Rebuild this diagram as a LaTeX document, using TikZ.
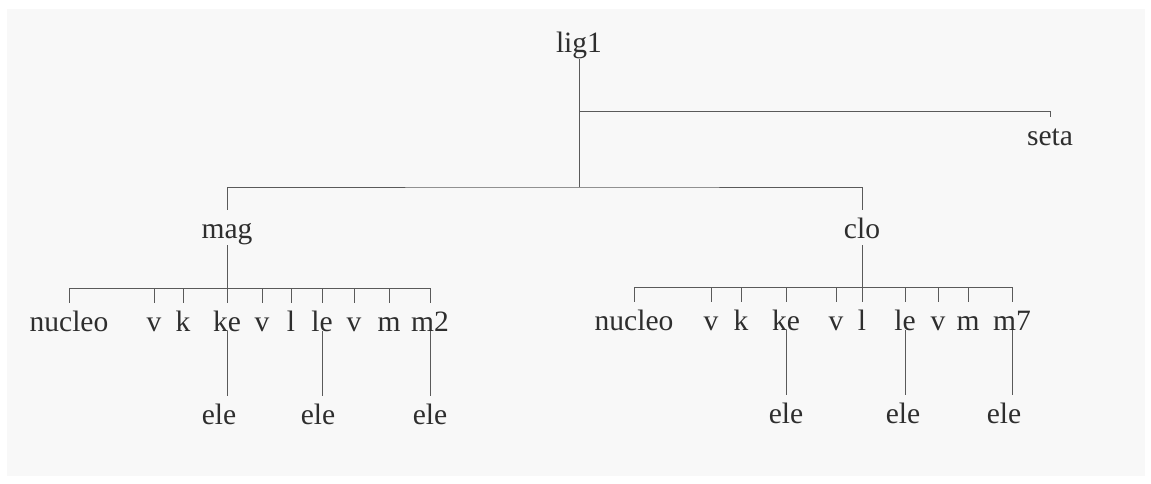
\documentclass[tikz,border=0pt]{standalone}
\usepackage{fontspec}
\setmainfont{Liberation Serif}
\usetikzlibrary{positioning}
\definecolor{paper}{HTML}{F8F8F8}
\definecolor{ink}{HTML}{2E2E2E}
\definecolor{rule}{HTML}{5A5A5A}

\begin{document}
\begin{tikzpicture}[x=0.025cm,y=-0.025cm,
    lab/.style={inner sep=0pt,text height=20pt,text depth=5pt,anchor=base,
      font=\fontsize{21}{25}\selectfont,text=ink},
    stem/.style={draw=rule,line width=0.65pt}]
    \useasboundingbox (0,0) rectangle (1151,483);
    \fill[paper] (7,9) rectangle (1145,476);
    % top levels
    \node[lab] (lig1) at (579,52) {lig1};
    \node[lab] (seta) at (1050,145) {seta};
    \node[lab] (mag) at (227,238) {mag};
    \node[lab] (clo) at (862,238) {clo};
    \coordinate (setafork) at (579,111);
    \coordinate (rootfork) at (579,187);
    \draw[stem] (lig1.south) -- (rootfork);
    \draw[stem] (setafork) -| (seta.north);
    \draw[stem] (mag.north) |- (rootfork) -| (clo.north);
    % rows under mag and clo
    \coordinate (barL) at (0,288);
    \coordinate (barR) at (0,287);
    \foreach \n/\x/\lab in {nucL/69/nucleo,vLa/154/v,kL/183/k,keL/227/ke,vLb/262/v,
        lL/291/l,leL/322/le,vLc/354/v,mL/389/m,mtwoL/430/m2}
      \node[lab] (\n) at (\x,331) {\lab};
    \foreach \n/\x/\lab in {nucR/634/nucleo,vRa/711/v,kR/741/k,keR/786/ke,vRb/836/v,
        lR/862/l,leR/905/le,vRc/938/v,mR/968/m,msevenR/1012/m7}
      \node[lab] (\n) at (\x,330) {\lab};
    \draw[stem] (mag.south) -- (mag.south |- barL);
    \draw[stem] (clo.south) -- (clo.south |- barR);
    \draw[stem] (nucL.north |- barL) -- (mtwoL.north |- barL);
    \draw[stem] (nucR.north |- barR) -- (msevenR.north |- barR);
    \foreach \n in {nucL,vLa,kL,keL,vLb,lL,leL,vLc,mL,mtwoL}
      \draw[stem] (\n.north |- barL) -- (\n.north);
    \foreach \n in {nucR,vRa,kR,keR,vRb,lR,leR,vRc,mR,msevenR}
      \draw[stem] (\n.north |- barR) -- (\n.north);
    % ele leaves
    \foreach \p/\e/\x/\y in {keL/eleA/219/424,leL/eleB/318/424,mtwoL/eleC/430/424,
        keR/eleD/786/423,leR/eleE/903/423,msevenR/eleF/1004/423} {
      \node[lab] (\e) at (\x,\y) {ele};
      \draw[stem] (\p.base) -- (\p.base |- \e.north);
    }
\end{tikzpicture}
\end{document}
